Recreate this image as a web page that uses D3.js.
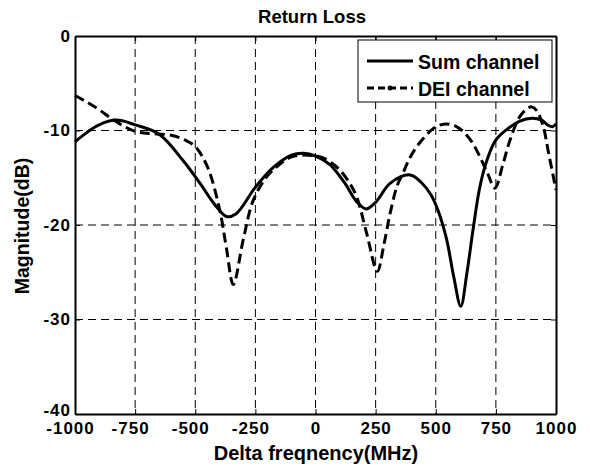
<!DOCTYPE html>
<html>
<head>
<meta charset="utf-8">
<script src="https://cdn.jsdelivr.net/npm/d3@7"></script>
<style>
  body { margin: 0; background: #fff; }
  text { font-family: "Liberation Sans", Arial, sans-serif; font-weight: bold; fill: #000; }
</style>
</head>
<body>
<div id="chart"></div>
<script>
// Return loss chart, two channels

var xTicks = [-1000, -750, -500, -250, 0, 250, 500, 750, 1000];
var yTicks = [0, -10, -20, -30, -40];

var sumFreq = [-1000, -950, -900, -830, -750, -650, -550, -480, -420, -370, -330, -250, -180, -100, -50, 0, 60, 120, 170, 210, 250, 310, 393, 440, 480, 510, 545, 575, 604, 630, 655, 684, 715, 750, 800, 850, 900, 940, 965, 985, 1000];
var sumMag  = [-11.2, -10.2, -9.4, -8.9, -9.4, -10.4, -13.2, -15.6, -17.8, -19.1, -18.8, -16.0, -14.0, -12.6, -12.4, -12.7, -13.6, -15.5, -17.5, -18.3, -17.6, -15.6, -14.7, -15.5, -16.8, -18.5, -21.5, -25.5, -28.6, -25.0, -20.5, -15.9, -13.0, -11.0, -9.8, -9.0, -8.7, -8.9, -9.4, -9.6, -9.3];

var deiFreq = [-1000, -950, -900, -850, -800, -750, -700, -600, -543, -500, -450, -400, -370, -342, -300, -259, -203, -150, -100, -50, 0, 32, 70, 102, 140, 171, 213, 257, 285, 310, 340, 364, 390, 421, 460, 489, 520, 545, 580, 614, 650, 684, 715, 746, 780, 809, 850, 880, 899, 920, 947, 970, 1000];
var deiMag  = [-6.3, -7.0, -7.8, -8.7, -9.5, -10.1, -10.3, -10.5, -11.0, -11.7, -13.8, -18.2, -22.5, -26.3, -21.5, -17.4, -14.9, -13.6, -12.8, -12.6, -12.7, -12.9, -13.5, -14.2, -15.5, -17.0, -20.9, -24.9, -22.0, -18.8, -15.8, -14.5, -13.0, -11.7, -10.5, -9.8, -9.4, -9.3, -9.5, -10.1, -11.2, -12.8, -14.5, -16.1, -13.5, -11.0, -8.5, -7.7, -7.5, -7.9, -9.6, -12.5, -16.3];

var seriesNames = ["Sum channel", "DEI channel"];

var margin = {top: 36, right: 34, bottom: 55, left: 75},
    width = 590 - margin.left - margin.right,
    height = 469 - margin.top - margin.bottom;

var svg = d3.select("#chart")
  .append("svg")
    .attr("width", 590)
    .attr("height", 469);

var g = svg.append("g")
    .attr("transform", "translate(" + margin.left + "," + margin.top + ")");

var x = d3.scaleLinear().domain([-1000, 1000]).range([0, width]);
var y = d3.scaleLinear().domain([-40, 0]).range([height, 0]);

var plain = function(d) { return String(d); };

// grid
g.append("g").selectAll("line")
  .data(xTicks.slice(1, -1))
  .enter().append("line")
    .attr("x1", function(d) { return x(d); })
    .attr("x2", function(d) { return x(d); })
    .attr("y1", 0).attr("y2", height)
    .attr("stroke", "#000").attr("stroke-width", 1)
    .attr("stroke-dasharray", "8,5");
g.append("g").selectAll("line")
  .data(yTicks.slice(1, -1))
  .enter().append("line")
    .attr("x1", 0).attr("x2", width)
    .attr("y1", function(d) { return y(d); })
    .attr("y2", function(d) { return y(d); })
    .attr("stroke", "#000").attr("stroke-width", 1)
    .attr("stroke-dasharray", "8,5");

// axes
var xAxis = g.append("g")
  .attr("transform", "translate(0," + height + ")")
  .call(d3.axisBottom(x).tickValues(xTicks).tickFormat(plain).tickSizeInner(-5).tickSizeOuter(0).tickPadding(8));
var yAxis = g.append("g")
  .call(d3.axisLeft(y).tickValues(yTicks).tickFormat(plain).tickSizeInner(-5).tickSizeOuter(0).tickPadding(4));
var xTop = g.append("g")
  .call(d3.axisTop(x).tickValues(xTicks).tickSizeInner(-5).tickSizeOuter(0).tickFormat(""));
var yRight = g.append("g")
  .attr("transform", "translate(" + width + ",0)")
  .call(d3.axisRight(y).tickValues(yTicks).tickSizeInner(-5).tickSizeOuter(0).tickFormat(""));

[xAxis, yAxis, xTop, yRight].forEach(function(a) {
  a.select(".domain").attr("stroke", "#000").attr("stroke-width", 2);
  a.selectAll(".tick line").attr("stroke", "#000").attr("stroke-width", 1);
});
xAxis.selectAll("text")
  .style("font-size", "17px").style("letter-spacing", "1px")
  .attr("dx", function(d) { return d < 0 ? -5 : 0; });
yAxis.selectAll("text")
  .style("font-size", "17px").style("letter-spacing", "1px")
  .attr("y", function(d) { return d === -40 ? -4 : 0; });

// curves
var line = d3.line()
  .x(function(d) { return x(d[0]); })
  .y(function(d) { return y(d[1]); })
  .curve(d3.curveCatmullRom.alpha(0.5));

g.append("path")
  .datum(d3.zip(deiFreq, deiMag))
  .attr("d", line)
  .attr("fill", "none")
  .attr("stroke", "#000")
  .attr("stroke-width", 3)
  .attr("stroke-dasharray", "10,5");

g.append("path")
  .datum(d3.zip(sumFreq, sumMag))
  .attr("d", line)
  .attr("fill", "none")
  .attr("stroke", "#000")
  .attr("stroke-width", 3);

// legend
var leg = svg.append("g").attr("transform", "translate(358,40)");
leg.append("rect")
  .attr("width", 194).attr("height", 62)
  .attr("fill", "#fff").attr("stroke", "#000").attr("stroke-width", 1);
leg.append("line")
  .attr("x1", 9).attr("x2", 55).attr("y1", 21).attr("y2", 21)
  .attr("stroke", "#000").attr("stroke-width", 3);
leg.append("line")
  .attr("x1", 9).attr("x2", 55).attr("y1", 48).attr("y2", 48)
  .attr("stroke", "#000").attr("stroke-width", 3)
  .attr("stroke-dasharray", "7,4");
leg.append("circle")
  .attr("cx", 32).attr("cy", 48).attr("r", 2.5).attr("fill", "#000");
leg.selectAll("text.lab")
  .data(seriesNames)
  .enter().append("text")
    .attr("class", "lab")
    .attr("x", 60)
    .attr("y", function(d, i) { return 29 + i * 27; })
    .style("font-size", "19.5px")
    .text(function(d) { return d; });

// titles
svg.append("text")
  .attr("x", 312).attr("y", 22.5)
  .attr("text-anchor", "middle")
  .style("font-size", "18.5px")
  .text("Return Loss");

svg.append("text")
  .attr("x", 316).attr("y", 460)
  .attr("text-anchor", "middle")
  .style("font-size", "20px")
  .text("Delta freqnency(MHz)");

svg.append("text")
  .attr("transform", "translate(22,226) rotate(-90)")
  .attr("dy", "0.35em")
  .attr("text-anchor", "middle")
  .style("font-size", "19.5px")
  .text("Magnitude(dB)");
</script>
</body>
</html>
